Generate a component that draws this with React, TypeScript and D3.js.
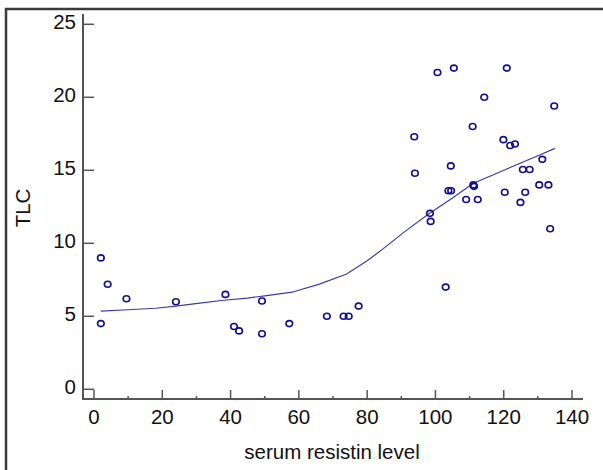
import * as d3 from "d3";
import { useEffect, useRef } from "react";

// scatter points: serum resistin level vs TLC
const resistin = [2, 4, 9.5, 2, 24, 38.5, 41, 42.5, 49.2, 49.2, 57.2, 68.2, 73.1, 74.6, 77.5,
  100.6, 105.4, 120.9, 114.3, 134.8, 110.9, 93.8, 119.9, 121.9, 123.3, 131.3, 104.5, 94, 125.6, 127.6,
  130.4, 133.1, 111.1, 111.3, 103.8, 104.6, 109, 112.4, 120.3, 126.3, 124.9, 98.4, 98.6, 133.6, 103]
const tlc = [9.0, 7.2, 6.2, 4.5, 6.0, 6.5, 4.3, 4.0, 6.05, 3.8, 4.5, 5.0, 5.0, 5.0, 5.7,
  21.7, 22.0, 22.0, 20.0, 19.4, 18.0, 17.3, 17.1, 16.7, 16.8, 15.75, 15.3, 14.8, 15.05, 15.05,
  14.0, 14.0, 14.0, 13.9, 13.6, 13.6, 13.0, 13.0, 13.5, 13.5, 12.8, 12.05, 11.5, 11.0, 7.0]

// smoothed fit curve
const fitX = [2, 10, 18, 24, 31, 38, 45, 50, 58, 66, 74, 80, 84, 91, 98, 105, 111, 118, 125, 130, 135]
const fitY = [5.35, 5.45, 5.55, 5.7, 5.9, 6.1, 6.25, 6.4, 6.65, 7.2, 7.9, 8.8, 9.5, 10.8, 12.0, 13.1, 14.1, 14.8, 15.5, 16.0, 16.5]

const xTicks = [0, 20, 40, 60, 80, 100, 120, 140]
const xMinor = [10, 30, 50, 70, 90, 110, 130]
const yTicks = [0, 5, 10, 15, 20, 25]

export default function App() {
  const ref = useRef<SVGSVGElement>(null)

  useEffect(() => {
    const svg = d3.select(ref.current)
    svg.selectAll("*").remove()
    const font = "Liberation Sans, Arial, sans-serif"
    const axisCol = "#555"
    const textCol = "#111"

    const x = d3.scaleLinear().domain([0, 140]).range([94, 572])
    const y = d3.scaleLinear().domain([0, 25]).range([389.3, 24.3])
    const x0 = 83, x1 = 583, yTop = 14, yBot = 399

    // outer frame
    svg.append("rect").attr("x", 6).attr("y", 9).attr("width", 620).attr("height", 480)
      .attr("fill", "none").attr("stroke", "#3a3a3a").attr("stroke-width", 2.5)

    // axes
    svg.append("line").attr("x1", x0).attr("x2", x0).attr("y1", yTop).attr("y2", yBot)
      .attr("stroke", axisCol).attr("stroke-width", 2)
    svg.append("line").attr("x1", x0 - 1).attr("x2", x1).attr("y1", yBot).attr("y2", yBot)
      .attr("stroke", axisCol).attr("stroke-width", 2)

    svg.selectAll(".ytick").data(yTicks).enter().append("line")
      .attr("x1", x0).attr("x2", x0 + 11)
      .attr("y1", d => y(d)).attr("y2", d => y(d))
      .attr("stroke", axisCol).attr("stroke-width", 1.5)
    svg.selectAll(".ylab").data(yTicks).enter().append("text")
      .attr("x", 76).attr("y", d => y(d) + 5)
      .attr("text-anchor", "end").style("font", `20.5px ${font}`).attr("fill", textCol)
      .text(d => d)

    svg.selectAll(".xtick").data(xTicks).enter().append("line")
      .attr("x1", d => x(d)).attr("x2", d => x(d))
      .attr("y1", yBot).attr("y2", yBot - 9)
      .attr("stroke", axisCol).attr("stroke-width", 1.5)
    svg.selectAll(".xminor").data(xMinor).enter().append("line")
      .attr("x1", d => x(d)).attr("x2", d => x(d))
      .attr("y1", yBot).attr("y2", yBot - 3)
      .attr("stroke", axisCol).attr("stroke-width", 1.5)
    svg.selectAll(".xlab").data(xTicks).enter().append("text")
      .attr("x", d => x(d)).attr("y", 424)
      .attr("text-anchor", "middle").style("font", `20.5px ${font}`).attr("fill", textCol)
      .text(d => d)

    svg.append("text").attr("x", 332).attr("y", 459).attr("text-anchor", "middle")
      .style("font", `20.5px ${font}`).attr("fill", textCol).text("serum resistin level")
    svg.append("text").attr("transform", "translate(30,208) rotate(-90)").attr("text-anchor", "middle")
      .style("font", `20.5px ${font}`).attr("fill", textCol).text("TLC")

    // fit line
    const line = d3.line<number>().x((d, i) => x(fitX[i])).y(d => y(d))
    svg.append("path").attr("d", line(fitY) as string)
      .attr("fill", "none").attr("stroke", "#3c3ca0").attr("stroke-width", 1.2)

    // points
    svg.selectAll(".pt").data(tlc).enter().append("ellipse")
      .attr("cx", (d, i) => x(resistin[i])).attr("cy", d => y(d))
      .attr("rx", 3.3).attr("ry", 3)
      .attr("fill", "none").attr("stroke", "#10108a").attr("stroke-width", 1.6)
  }, [])

  return (
    <svg ref={ref} width={603} height={470}
      style={{ position: "absolute", left: 0, top: 0, background: "#fff" }} />
  )
}
